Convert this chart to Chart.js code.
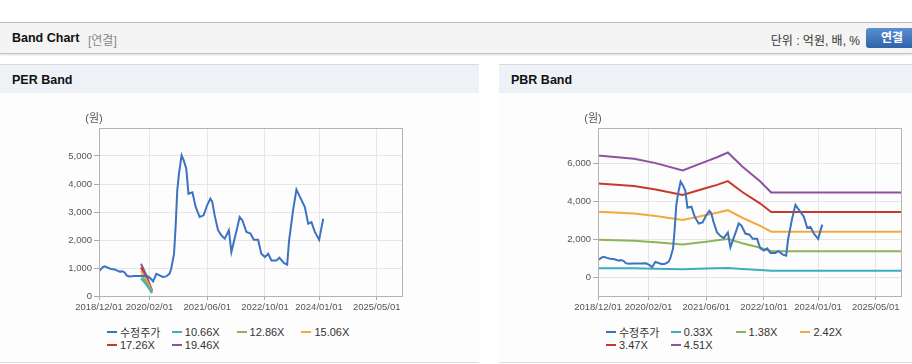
<!DOCTYPE html>
<html lang="ko">
<head>
<meta charset="utf-8">
<script src="https://cdn.jsdelivr.net/npm/chart.js@4.4.1/dist/chart.umd.min.js"></script>
<style>
  body { margin: 0; width: 912px; height: 364px; overflow: hidden; background: #fff;
         font-family: 'Liberation Sans', 'Noto Sans CJK KR', sans-serif; position: relative; }
  .topbar { position: absolute; left: 0; top: 22px; width: 912px; height: 30px; background: #f4f4f4;
            border-top: 1px solid #b8b8b8; border-bottom: 1px solid #c4c4c4; box-shadow: 0 1px 2px rgba(0,0,0,.15); }
  .topbar .title { position: absolute; left: 12px; top: 8px; font-size: 12.5px; font-weight: bold; color: #111; }
  .topbar .sub { position: absolute; left: 88px; top: 8px; font-size: 12px; color: #888; }
  .topbar .unit { position: absolute; right: 52px; top: 8px; font-size: 12px; color: #333; }
  .topbar .btn { position: absolute; left: 866px; top: 5px; width: 52px; height: 20px; border-radius: 3px;
                 background: linear-gradient(#5a8fd0, #2f62a8); color: #fff; font-size: 12px; font-weight: bold;
                 text-align: center; line-height: 20px; }
  .panel { position: absolute; top: 64px; width: 479px; height: 297px; background: #fdfdfd;
           border-top: 1px solid #d8d8d8; border-bottom: 1px solid #dcdcdc; }
  .panel .head { height: 28px; background: #eef2f7; font-size: 12.5px; font-weight: bold; color: #111;
                 padding-left: 12px; line-height: 30px; }
  .panel canvas { position: absolute; left: 0; top: 45px; }
  .legend { position: absolute; left: 107px; top: 260.5px; display: grid;
            grid-template-columns: repeat(4, 64.8px); grid-auto-rows: 12.7px; }
  .legend .item { display: flex; align-items: center; font-size: 11px; color: #333; white-space: nowrap; }
  .legend .sym { display: inline-block; width: 10px; height: 2px; margin-right: 3px; flex: none; }
</style>
</head>
<body>
<div class="topbar">
  <span class="title">Band Chart</span><span class="sub">[연결]</span>
  <span class="unit">단위 : 억원, 배, %</span>
  <span class="btn">연결</span>
</div>
<div class="panel" style="left:0">
  <div class="head">PER Band</div>
  <canvas id="perChart" width="479" height="206"></canvas>
  <div class="legend" id="perLegend"></div>
</div>
<div class="panel" style="left:499px">
  <div class="head">PBR Band</div>
  <canvas id="pbrChart" width="479" height="206"></canvas>
  <div class="legend" id="pbrLegend"></div>
</div>
<script>
/* 수정주가 */
const priceDates = ['2018/12/01', '2019/01/03', '2019/01/19', '2019/02/14', '2019/03/13', '2019/04/10',
  '2019/05/07', '2019/05/28', '2019/06/10', '2019/07/03', '2019/07/22', '2019/08/15', '2019/09/27',
  '2019/11/22', '2020/01/09', '2020/02/07', '2020/03/01', '2020/03/28', '2020/04/25', '2020/05/22',
  '2020/06/20', '2020/07/18', '2020/08/02', '2020/08/25', '2020/09/08', '2020/09/22', '2020/10/06',
  '2020/10/28', '2020/11/15', '2020/12/07', '2020/12/25', '2021/01/28', '2021/02/25', '2021/03/28',
  '2021/05/01', '2021/05/30', '2021/06/27', '2021/07/13', '2021/08/03', '2021/09/01', '2021/09/28',
  '2021/10/27', '2021/12/01', '2021/12/22', '2022/01/19', '2022/02/12', '2022/03/01', '2022/03/24',
  '2022/04/27', '2022/06/01', '2022/06/28', '2022/08/04', '2022/09/01', '2022/10/01', '2022/10/28',
  '2022/11/25', '2023/01/07', '2023/02/01', '2023/03/08', '2023/04/06', '2023/04/22', '2023/05/25',
  '2023/06/23', '2023/07/22', '2023/09/03', '2023/10/01', '2023/10/28', '2023/11/26', '2024/01/02',
  '2024/01/22', '2024/02/06'];
const priceValues = [880, 1030, 1060, 1010, 960, 950,
  900, 860, 890, 850, 730, 700, 710,
  710, 720, 640, 520, 790, 740, 680,
  700, 800, 980, 1500, 2460, 3770, 4370,
  5020, 4850, 4550, 3650, 3700, 3180, 2820,
  2880, 3240, 3480, 3360, 2880, 2350, 2170,
  2050, 2350, 1570, 2050, 2460, 2820, 2700,
  2290, 2230, 2010, 2010, 1510, 1390, 1510,
  1270, 1270, 1370, 1180, 1120, 1990, 3060,
  3800, 3540, 3180, 2580, 2640, 2290, 2010,
  2460, 2760];

/* PER band */
const perDates = ['2019/11/20', '2020/01/05', '2020/02/22'];
const per1066 = [630, 405, 107];
const per1286 = [760, 489, 129];
const per1506 = [890, 572, 151];
const per1726 = [1020, 656, 173];
const per1946 = [1150, 739, 195];

/* PBR band */
const pbrDates = ['2018/12/01', '2019/10/01', '2020/04/01', '2020/11/15', '2021/06/01', '2021/09/01',
  '2021/12/01', '2022/04/01', '2022/09/01', '2022/12/01', '2025/12/01'];
const pbr033 = [468, 456, 439, 411, 446, 462, 480, 426, 368, 326, 326];
const pbr138 = [1958, 1906, 1835, 1717, 1863, 1931, 2008, 1780, 1539, 1363, 1363];
const pbr242 = [3434, 3342, 3219, 3010, 3267, 3386, 3521, 3122, 2698, 2391, 2391];
const pbr347 = [4925, 4793, 4615, 4317, 4685, 4855, 5049, 4476, 3869, 3428, 3428];
const pbr451 = [6400, 6230, 6000, 5610, 6090, 6310, 6560, 5820, 5030, 4455, 4455];

/* axes */
const xTickDates = ['2018/12/01', '2020/02/01', '2021/06/01', '2022/10/01', '2024/01/01', '2025/05/01'];
const xStart = '2018/12/01';
const xEnd = '2025/12/01';
const perYTicks = [0, 1000, 2000, 3000, 4000, 5000];
const pbrYTicks = [0, 2000, 4000, 6000];

const colors = {
    price: '#3d72c2',
    b1: '#3aaebd',
    b2: '#8db557',
    b3: '#f2aa3c',
    b4: '#c8392c',
    b5: '#8d52a0'
};

// month index from 2018/12/01
function mIdx(s) {
    const [y, m, d] = s.split('/').map(Number);
    return (y - 2018) * 12 + (m - 12) + (d - 1) / 30;
}
const pts = (dates, vals) => dates.map((d, i) => ({ x: mIdx(d), y: vals[i] }));
const tickLabel = {};
xTickDates.forEach(d => { tickLabel[mIdx(d)] = d; });

const line = (label, color, dates, vals) => ({
    label, data: pts(dates, vals), borderColor: color, backgroundColor: color,
    borderWidth: 2, pointRadius: 0, tension: 0
});

const frame = {
    id: 'frame',
    afterDraw(chart) {
        const { ctx, chartArea: a } = chart;
        ctx.save();
        ctx.strokeStyle = '#b4b4b4';
        ctx.lineWidth = 1;
        ctx.strokeRect(a.left + 0.5, a.top + 0.5, a.right - a.left, a.bottom - a.top);
        ctx.fillStyle = '#555';
        ctx.font = '11px "Liberation Sans", "Noto Sans CJK KR"';
        ctx.textAlign = 'center';
        ctx.textBaseline = 'middle';
        ctx.fillText('(원)', a.left - 5, a.top - 9);
        ctx.restore();
    }
};

const tickFont = { family: "'Liberation Sans', 'Noto Sans CJK KR'", size: 9.5 };

function makeChart(id, datasets, yMin, yMax, yTicks) {
    return new Chart(document.getElementById(id), {
        type: 'line',
        data: { datasets },
        options: {
            responsive: false,
            animation: false,
            layout: { padding: { top: 18, right: 77, left: 0, bottom: 0 } },
            plugins: { legend: { display: false }, tooltip: { enabled: false } },
            scales: {
                x: {
                    type: 'linear',
                    min: mIdx(xStart),
                    max: mIdx(xEnd),
                    afterBuildTicks: s => { s.ticks = xTickDates.map(d => ({ value: mIdx(d) })); },
                    afterFit: s => { s.height = 20; },
                    ticks: {
                        color: '#555', font: tickFont, padding: 2, maxRotation: 0, autoSkip: false,
                        callback: v => tickLabel[v]
                    },
                    grid: { color: '#e6e6e6', tickColor: '#aaa', tickLength: 4 },
                    border: { color: '#b4b4b4' }
                },
                y: {
                    min: yMin,
                    max: yMax,
                    afterBuildTicks: s => { s.ticks = yTicks.map(v => ({ value: v })); },
                    afterFit: s => { s.width = 99; },
                    ticks: {
                        color: '#555', font: tickFont, padding: 2,
                        callback: v => v.toLocaleString('en-US')
                    },
                    grid: { color: '#e6e6e6', tickColor: '#aaa', tickLength: 5 },
                    border: { color: '#b4b4b4' }
                }
            }
        },
        plugins: [frame]
    });
}

function makeLegend(id, datasets) {
    const box = document.getElementById(id);
    datasets.forEach(ds => {
        const item = document.createElement('span');
        item.className = 'item';
        item.innerHTML = '<span class="sym" style="background:' + ds.borderColor + '"></span>' + ds.label;
        box.appendChild(item);
    });
}

const perSets = [
    line('수정주가', colors.price, priceDates, priceValues),
    line('10.66X', colors.b1, perDates, per1066),
    line('12.86X', colors.b2, perDates, per1286),
    line('15.06X', colors.b3, perDates, per1506),
    line('17.26X', colors.b4, perDates, per1726),
    line('19.46X', colors.b5, perDates, per1946)
];
const pbrSets = [
    line('수정주가', colors.price, priceDates, priceValues),
    line('0.33X', colors.b1, pbrDates, pbr033),
    line('1.38X', colors.b2, pbrDates, pbr138),
    line('2.42X', colors.b3, pbrDates, pbr242),
    line('3.47X', colors.b4, pbrDates, pbr347),
    line('4.51X', colors.b5, pbrDates, pbr451)
];

makeChart('perChart', perSets, 0, 6000, perYTicks);
makeChart('pbrChart', pbrSets, -1000, 7850, pbrYTicks);
makeLegend('perLegend', perSets);
makeLegend('pbrLegend', pbrSets);
</script>
</body>
</html>
